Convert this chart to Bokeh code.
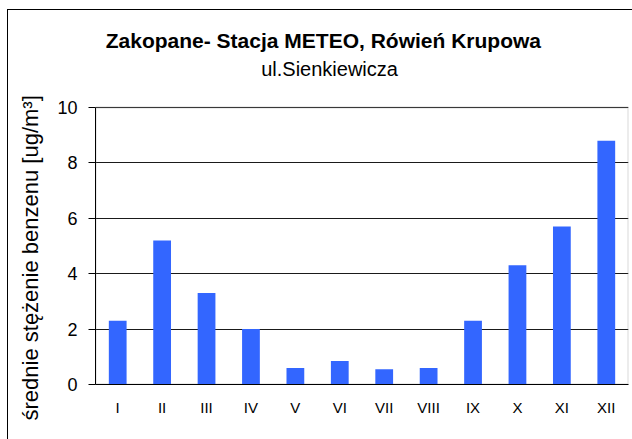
from bokeh.plotting import figure
from bokeh.models import (FactorRange, Range1d, FixedTicker, Title, Label,
                          BoxAnnotation, ColumnDataSource)
from bokeh.embed import file_html
from bokeh.resources import INLINE

months = ["I", "II", "III", "IV", "V", "VI", "VII", "VIII", "IX", "X", "XI", "XII"]
benzene = [2.3, 5.2, 3.3, 2.0, 0.6, 0.85, 0.55, 0.6, 2.3, 4.3, 5.7, 8.8]
y_ticks = [0, 2, 4, 6, 8, 10]

title_text = "Zakopane- Stacja METEO, Rówień Krupowa"
subtitle_text = "ul.Sienkiewicza"
ylabel_text = "średnie stężenie benzenu  [ug/m³]"

FONT = "Liberation Sans"

# frame spans whole height above the axis; value axis shown only for 0..10
p = figure(width=632, height=439, output_backend="svg", toolbar_location=None,
           x_range=FactorRange(*months), y_range=Range1d(0, 13.86),
           min_border_left=95, min_border_right=4, min_border_top=0, min_border_bottom=55)
p.styles = {
    "background": "linear-gradient(#000,#000) 7px 9px / 1px 100% no-repeat, "
                  "linear-gradient(#000,#000) 7px 9px / 100% 1px no-repeat, #fff"
}

p.background_fill_color = None
p.border_fill_color = None
p.outline_line_color = None

p.xgrid.grid_line_color = None
p.ygrid.grid_line_color = "#1a1a1a"
p.ygrid.grid_line_width = 1
p.yaxis.ticker = FixedTicker(ticks=y_ticks)
p.yaxis.bounds = (y_ticks[0], y_ticks[-1])

p.add_layout(BoxAnnotation(bottom=y_ticks[0], top=y_ticks[-1], fill_color=None,
                           line_color="#808080", line_width=2, level="underlay"))

src = ColumnDataSource(dict(m=months, v=benzene))
p.vbar(x="m", top="v", width=0.4, source=src, fill_color="#3366FF", line_color=None)

for ax in (p.xaxis[0], p.yaxis[0]):
    ax.axis_line_color = "black"
    ax.axis_line_width = 1
    ax.minor_tick_line_color = None
    ax.major_label_text_font = FONT
    ax.major_label_text_color = "black"

p.yaxis.major_tick_in = 0
p.yaxis.major_tick_out = 7
p.yaxis.major_tick_line_color = "black"
p.yaxis.major_label_text_font_size = "18px"
p.yaxis.major_label_standoff = 11

p.xaxis.major_tick_in = 0
p.xaxis.major_tick_out = 0
p.xaxis.major_label_text_font_size = "15px"
p.xaxis.major_label_standoff = 14

p.add_layout(Title(text=ylabel_text, align="left", offset=-36, standoff=24,
                   text_font=FONT, text_font_size="22px", text_font_style="normal",
                   text_color="black"), "left")

p.add_layout(Label(x=5.13, y=12.42, text=title_text, text_font=FONT,
                   text_font_size="21px", text_font_style="bold", text_color="black",
                   text_align="center", text_baseline="alphabetic"))
p.add_layout(Label(x=5.27, y=11.40, text=subtitle_text, text_font=FONT,
                   text_font_size="20px", text_font_style="normal", text_color="black",
                   text_align="center", text_baseline="alphabetic"))

open("out.html", "w").write(file_html(p, INLINE))
